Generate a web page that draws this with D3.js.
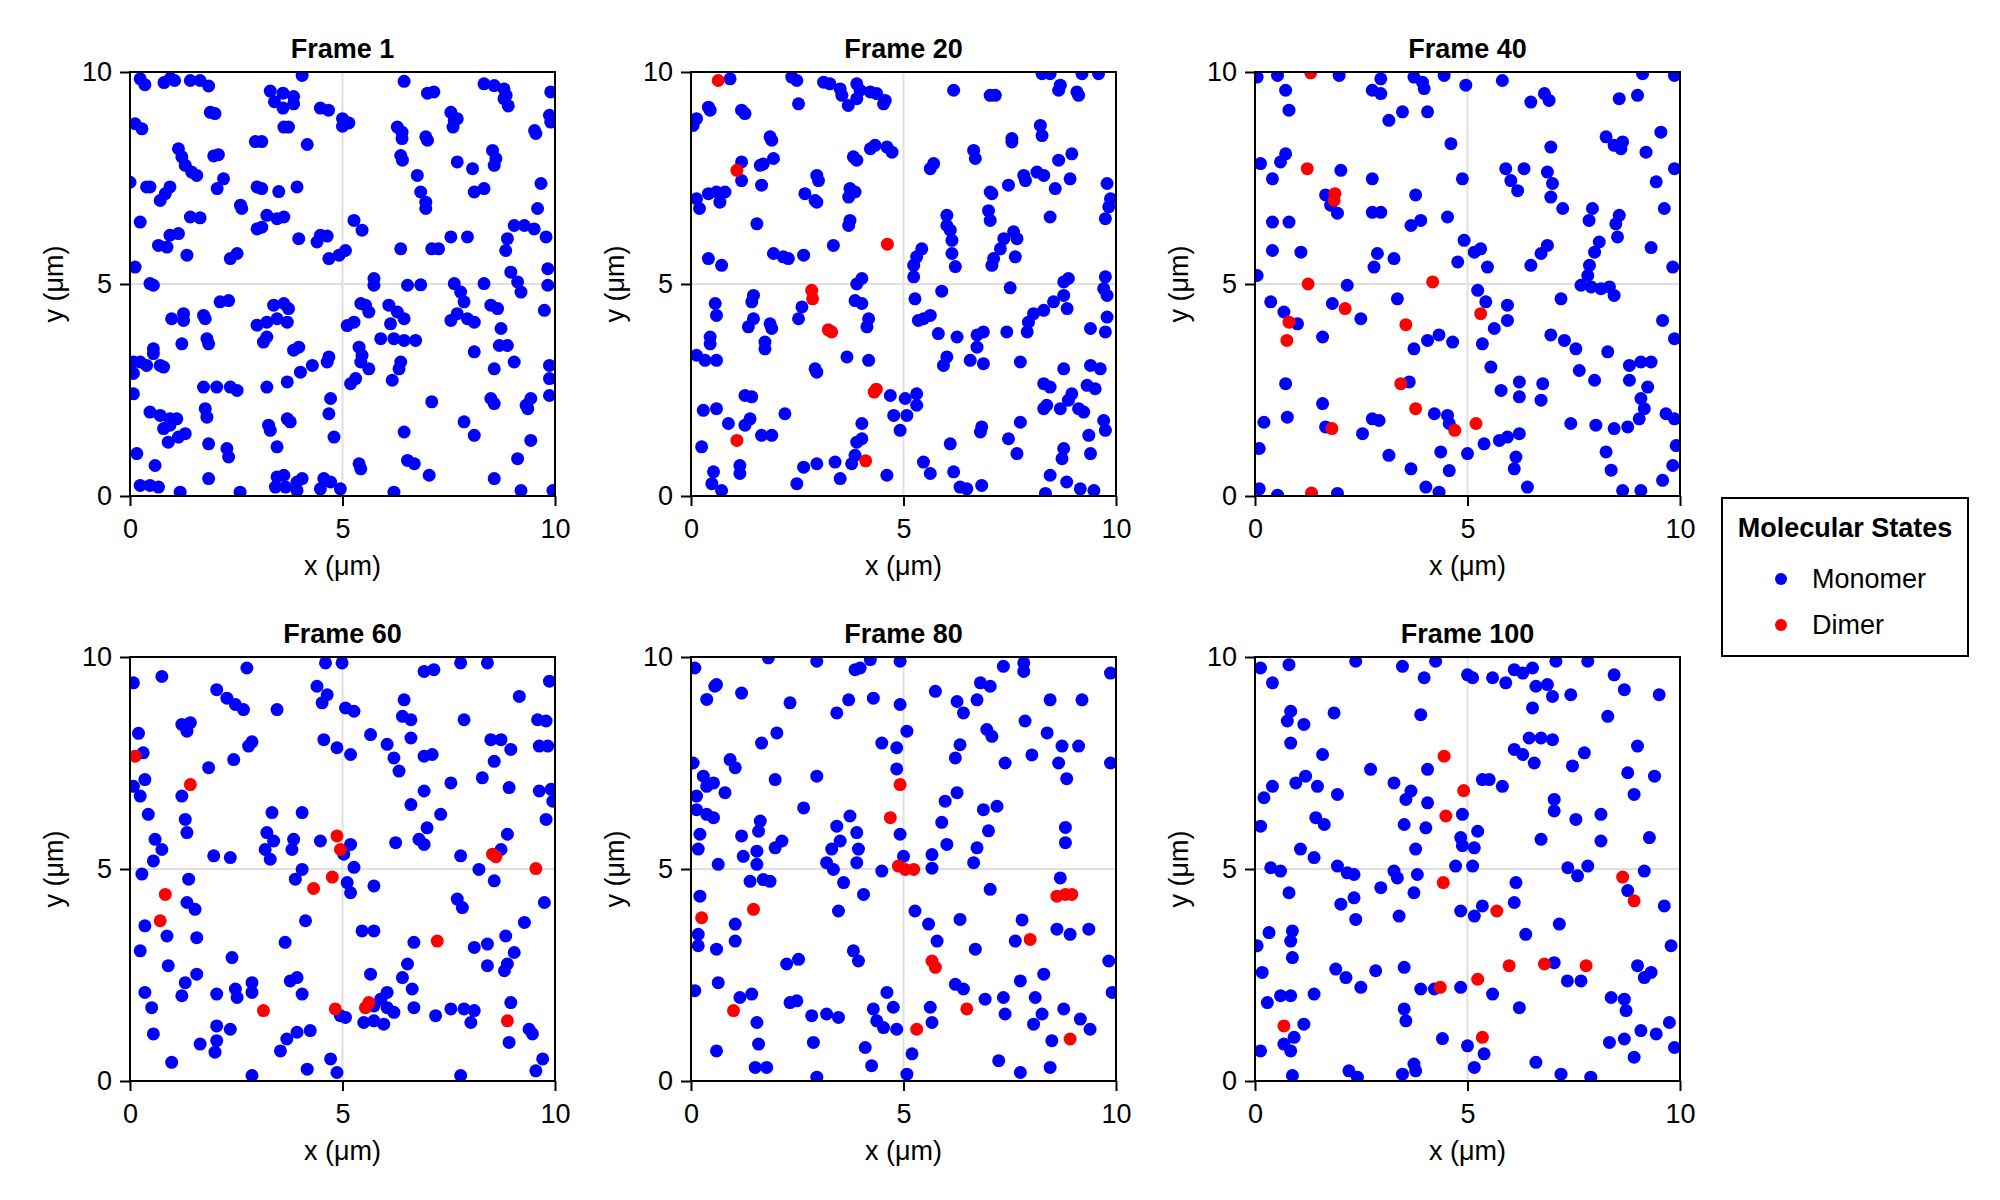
<!DOCTYPE html>
<html>
<head>
<meta charset="utf-8">
<script src="https://cdn.jsdelivr.net/npm/d3@7"></script>
<style>
  body { margin: 0; background: #fff; }
  svg { font-family: "Liberation Sans", Arial, sans-serif; }
</style>
</head>
<body>
<div id="container"></div>
<script>
'use strict'

// frame titles and tick labels
const frameTitles = ["Frame 1", "Frame 20", "Frame 40", "Frame 60", "Frame 80", "Frame 100"];
const tickValues = [0, 5, 10];
const stateNames = ["Monomer", "Dimer"];

// positions (µm)
const mono1 = [[0.24,9.84],[0.35,9.7],[0.8,9.75],[0.95,9.85],[1.05,9.8],[1.42,9.8],[1.65,9.8],[1.85,9.67],[4.05,9.92],
 [3.3,9.55],[3.6,9.5],[3.85,9.42],[3.4,9.3],[3.6,9.15],[3.85,9.25],[4.48,9.15],[4.67,9.1],[5.0,8.9],[5.15,8.8],[5.0,8.72],
 [6.45,9.78],[7.0,9.5],[7.15,9.53],[8.33,9.72],[8.57,9.68],[8.8,9.6],[8.8,9.37],[8.9,9.2],[8.85,9.45],[9.9,9.53],[9.87,8.98],[9.9,8.82],[9.52,8.62],[9.55,8.55],
 [7.55,9.05],[7.63,8.86],[7.6,8.7],[7.7,8.9],[6.29,8.7],[6.4,8.58],[6.4,8.43],[6.96,8.47],[7.0,8.39],[1.89,9.05],[2.0,9.02],[0.12,8.78],[0.28,8.66],[3.62,8.7],[3.73,8.7],[2.95,8.36],[3.1,8.36],[4.17,8.29],
 [1.14,8.19],[1.22,8.0],[1.3,7.8],[1.45,7.64],[1.57,7.56],[1.97,8.02],[2.08,8.05],[2.2,7.48],[2.05,7.25],[0.0,7.4],[0.39,7.29],[0.47,7.29],[0.94,7.29],[0.83,7.13],[0.71,6.97],[2.99,7.29],[3.1,7.25],[3.5,7.18],[3.93,7.29],
 [2.6,6.86],[2.63,6.78],[3.22,6.62],[3.46,6.54],[3.62,6.58],[1.42,6.58],[1.65,6.56],[0.24,6.46],[2.99,6.3],[3.1,6.34],[0.94,6.15],[1.14,6.19],[0.67,5.91],[0.87,5.87],[3.97,6.07],[4.48,6.15],[4.64,6.13],[4.4,5.99],
 [1.34,5.68],[2.36,5.6],[2.52,5.72],[4.68,5.6],[4.92,5.68],[5.07,5.79],[0.12,5.4],[0.47,5.01],[0.55,4.97],[5.27,6.5],[5.46,6.27],[6.37,5.83],[7.1,5.83],[7.26,5.83],[7.55,6.11],[7.94,6.11],[5.74,5.13],[5.74,4.97],
 [6.53,4.97],[6.84,4.98],[7.63,5.01],[7.78,4.81],[7.86,4.58],[8.33,5.01],[8.96,5.28],[9.12,5.05],[9.2,4.81],[9.83,5.36],[9.83,4.97],[9.75,4.38],[8.88,6.07],[8.84,5.79],[9.04,6.38],[9.28,6.38],[9.51,6.3],[9.59,6.78],
 [9.79,6.11],[9.67,7.37],[8.33,7.25],[8.1,7.17],[7.7,7.88],[8.06,7.72],[8.53,8.15],[8.61,7.96],[8.57,7.8],[6.76,7.56],[6.84,7.17],[6.96,6.93],[6.96,6.78],[6.37,8.03],[6.41,7.92],
 [8.49,4.5],[8.65,4.42],[8.73,3.95],[8.69,3.55],[8.88,3.55],[9.04,3.16],[8.57,3.0],[9.87,3.08],[9.87,2.77],[9.87,2.37],[8.1,3.4],[7.94,4.18],[8.1,4.1],[7.55,4.14],[7.7,4.3],[8.49,2.3],[8.57,2.18],[9.36,2.06],[9.32,2.14],[9.43,2.3],
 [7.1,2.22],[7.86,1.75],[8.1,1.43],[6.45,1.51],[6.53,0.84],[6.69,0.76],[7.04,0.49],[9.12,0.88],[9.43,1.31],[8.57,0.41],[9.2,0.13],[9.95,0.13],[6.21,0.09],[5.39,0.76],[5.43,0.64],
 [5.11,4.02],[5.27,4.1],[5.43,4.54],[5.62,4.34],[5.54,4.5],[6.09,4.5],[6.29,4.34],[6.45,4.18],[6.13,4.06],[5.9,3.71],[6.21,3.71],[6.45,3.67],[6.72,3.67],[5.39,3.51],[5.46,3.32],[5.43,3.16],[5.62,3.0],[6.37,3.16],[6.33,3.0],[6.17,2.73],
 [5.19,2.65],[5.31,2.77],[4.68,3.28],[4.64,3.16],[3.85,3.44],[3.97,3.51],[4.01,2.92],[4.29,3.08],[4.72,2.3],[4.68,1.94],[4.8,1.39],[3.7,2.69],[3.22,2.57],[1.73,2.57],[2.04,2.57],[2.36,2.57],[2.52,2.49],[3.38,4.5],[3.62,4.54],[3.73,4.42],
 [2.99,4.03],[3.22,4.1],[3.46,4.18],[3.7,4.1],[3.14,3.63],[3.22,3.75],[2.12,4.58],[2.32,4.61],[0.98,4.18],[1.26,4.14],[1.26,4.3],[1.73,4.26],[1.77,4.18],[1.81,3.71],[1.85,3.59],[1.22,3.59],[0.55,3.47],[0.55,3.36],
 [0.24,3.16],[0.39,3.08],[0.71,3.08],[0.79,3.04],[0.08,3.16],[0.08,2.89],[0.08,2.41],[0.47,1.98],[0.71,1.9],[0.94,1.82],[1.1,1.82],[0.79,1.59],[0.94,1.67],[0.9,1.27],[1.14,1.39],[1.3,1.47],[1.77,2.06],[1.81,1.86],[1.85,1.23],
 [2.28,1.12],[2.32,0.92],[0.16,1.0],[0.59,0.72],[1.85,0.41],[0.24,0.25],[0.47,0.25],[0.67,0.21],[1.18,0.09],[2.59,0.09],[3.26,1.67],[3.3,1.55],[3.7,1.82],[3.77,1.75],[3.46,1.16],[3.46,0.45],[3.62,0.49],[3.42,0.21],[3.66,0.21],
 [3.93,0.33],[4.05,0.41],[3.93,0.13],[4.56,0.41],[4.72,0.33],[4.48,0.17],[4.95,0.17]];
const dimer1 = [];

const mono20 = [[0.92,9.84],[2.37,9.88],[2.49,9.8],[3.12,9.76],[3.27,9.72],[3.51,9.6],[3.55,9.45],[3.9,9.72],[3.98,9.57],[4.22,9.53],[4.37,9.49],[4.57,9.33],[4.53,9.25],[3.9,9.37],[3.7,9.21],
 [2.53,9.25],[0.41,9.17],[0.45,9.1],[0.13,8.9],[0.05,8.74],[1.19,9.1],[1.27,9.02],[1.86,8.47],[1.9,8.39],[6.18,9.57],[7.04,9.45],[7.16,9.45],[8.26,9.96],[8.45,9.96],[8.69,9.69],[8.65,9.57],[9.08,9.53],[9.12,9.45],[9.59,9.96],[9.2,9.96],
 [8.22,8.74],[8.26,8.5],[7.55,8.43],[7.55,8.35],[6.65,8.15],[6.69,7.96],[5.63,7.72],[5.71,7.84],[4.22,8.19],[4.33,8.27],[4.61,8.23],[4.73,8.11],[3.82,8.0],[3.9,7.92],[1.94,7.96],[1.63,7.8],[1.7,7.83],[1.19,7.88],[1.19,7.44],[1.66,7.33],
 [2.96,7.56],[3.0,7.44],[3.74,7.25],[3.86,7.17],[3.71,7.05],[2.68,7.13],[2.92,6.97],[2.96,6.93],[0.13,7.01],[0.2,6.78],[0.41,7.13],[0.6,7.17],[0.68,6.93],[0.8,7.17],[1.55,6.42],[3.74,6.5],[3.71,6.38],[3.35,5.91],
 [1.94,5.72],[2.17,5.64],[2.29,5.6],[2.65,5.68],[0.41,5.6],[0.72,5.44],[3.9,5.0],[4.02,5.13],[8.14,7.64],[8.3,7.56],[7.83,7.56],[7.87,7.44],[8.65,7.92],[8.96,8.07],[8.92,7.48],[8.57,7.25],[9.79,7.37],[9.87,7.01],[9.83,6.82],[9.75,6.54],
 [7.04,7.17],[7.08,7.13],[7.47,7.33],[8.45,6.58],[7.0,6.73],[7.04,6.5],[6.02,6.62],[6.02,6.38],[6.1,6.27],[6.14,6.03],[7.36,6.07],[7.59,6.23],[7.67,6.07],[7.28,5.83],[7.12,5.6],[7.08,5.44],[7.63,5.64],[6.14,5.72],[6.22,5.41],
 [5.43,5.83],[5.31,5.64],[5.24,5.44],[5.24,5.17],[8.88,5.13],[8.77,5.05],[9.75,5.17],[9.71,4.89],[9.79,4.73],[7.51,4.91],[5.9,4.83],[5.27,4.65],[8.77,4.73],[8.53,4.58],[8.3,4.38],[8.06,4.3],[7.94,4.1],[7.91,3.87],[8.85,4.42],
 [9.79,4.22],[9.75,3.87],[9.4,3.95],[7.43,3.87],[5.47,4.18],[5.63,4.26],[5.35,4.14],[5.82,3.83],[6.26,3.75],[6.73,3.8],[6.88,3.87],[6.73,3.51],[6.02,3.28],[5.94,3.08],[6.57,3.2],[6.88,3.12],[7.75,3.16],[8.77,3.0],[9.4,3.08],[9.63,3.0],
 [8.3,2.65],[8.45,2.57],[9.32,2.61],[9.51,2.53],[8.96,2.41],[8.88,2.26],[8.3,2.06],[8.37,2.14],[8.69,2.06],[9.12,2.06],[9.24,1.98],[9.71,1.78],[9.75,1.55],[7.75,1.74],[9.36,1.43],[9.4,1.0],[7.47,1.35],[7.67,1.0],[8.77,1.12],[8.73,0.88],
 [6.84,1.63],[6.81,1.51],[6.1,1.23],[6.18,0.57],[5.47,0.8],[5.63,0.53],[6.33,0.21],[6.49,0.17],[6.84,0.25],[8.45,0.49],[8.84,0.33],[9.16,0.17],[9.48,0.13],[8.34,0.06],
 [4.69,2.37],[5.04,2.3],[5.31,2.41],[5.31,2.14],[4.77,1.9],[5.08,1.9],[4.92,1.55],[3.67,3.28],[4.18,3.2],[2.92,3.0],[2.96,2.92],[3.86,4.61],[4.02,4.54],[4.18,4.18],[4.14,3.99],[2.61,4.46],[2.53,4.18],[1.47,4.73],[1.43,4.58],
 [0.57,4.54],[0.6,4.26],[1.47,4.18],[1.35,3.99],[1.86,4.06],[1.9,3.95],[0.45,3.75],[0.45,3.59],[1.74,3.63],[1.74,3.47],[0.13,3.32],[0.33,3.2],[0.6,3.2],[1.27,2.37],[1.43,2.34],[0.29,2.02],[0.6,2.06],[0.88,1.71],[1.27,1.67],[1.39,1.82],
 [2.21,1.94],[1.66,1.43],[1.9,1.43],[0.25,1.16],[4.02,1.71],[3.9,1.27],[4.02,1.35],[3.78,0.76],[3.86,0.96],[0.53,0.57],[0.49,0.29],[0.72,0.13],[1.15,0.72],[1.15,0.53],[2.49,0.29],[2.65,0.68],[2.96,0.76],[3.39,0.8],[3.51,0.41],[4.61,0.49]];
const dimer20 = [[0.64,9.8],[1.08,7.68],[4.62,5.94],[2.84,4.85],[2.86,4.65],[3.23,3.92],[3.31,3.87],[4.36,2.52],[4.31,2.45],[1.08,1.31],[4.11,0.83]];

const mono40 = [[0.05,9.88],[0.53,9.92],[0.72,9.57],[0.8,9.1],[1.98,9.92],[2.76,9.57],[2.96,9.49],[2.96,9.84],[3.15,8.86],[3.47,9.06],[3.74,9.88],[3.94,9.76],[3.98,9.61],[4.06,9.06],[4.45,9.92],[4.96,9.69],[5.82,9.8],
 [6.49,9.29],[6.81,9.49],[6.92,9.33],[8.57,9.37],[9.0,9.45],[9.12,9.96],[9.87,9.92],[8.26,8.47],[8.45,8.27],[8.65,8.35],[8.61,8.19],[9.55,8.58],[9.2,8.11],[9.87,7.72],[9.44,7.41],[6.96,8.23],[4.61,8.31],[0.72,8.07],[0.6,7.88],
 [0.13,7.84],[0.41,7.48],[2.02,7.68],[2.76,7.48],[1.66,7.1],[1.78,6.86],[1.94,6.67],[4.88,7.48],[5.9,7.72],[6.02,7.44],[6.33,7.72],[6.18,7.2],[6.88,7.64],[7.0,7.37],[6.96,7.05],[7.24,6.78],[7.94,6.78],[7.86,6.5],
 [8.57,6.62],[8.49,6.42],[8.53,6.11],[9.63,6.78],[9.32,5.86],[9.83,5.4],[8.1,5.99],[7.99,5.75],[7.87,5.44],[7.83,5.2],[7.67,4.97],[7.91,4.93],[8.14,4.89],[8.34,4.93],[8.45,4.73],[6.88,5.91],[6.73,5.72],[6.49,5.44],[7.2,4.65],
 [9.59,4.14],[9.87,3.71],[6.96,3.8],[7.28,3.67],[7.55,3.47],[8.3,3.4],[7.63,2.96],[7.99,2.73],[8.81,3.08],[9.08,3.16],[9.32,3.16],[8.81,2.73],[9.24,2.57],[9.08,2.3],[9.16,2.06],[9.04,1.82],[9.67,1.94],[8.45,1.59],[8.77,1.63],
 [9.87,1.82],[7.43,1.71],[8.02,1.67],[8.26,1.04],[8.38,0.61],[9.91,1.19],[9.83,0.72],[9.59,0.37],[8.65,0.13],[9.08,0.13],[6.41,0.21],[6.22,1.47],[5.94,1.39],[5.75,1.31],[5.39,1.23],[6.14,0.92],[6.1,0.64],[5.79,2.49],
 [6.22,2.69],[6.22,2.34],[6.77,2.65],[6.73,2.26],[5.55,3.04],[5.35,3.59],[5.63,3.95],[5.94,4.5],[5.94,4.14],[5.24,4.85],[5.43,4.58],[4.92,6.03],[5.16,5.75],[5.31,5.83],[5.47,5.4],[4.77,5.52],[2.17,4.97],[3.27,5.6],
 [2.88,5.72],[2.8,5.4],[1.08,5.75],[0.41,5.79],[0.05,5.2],[0.37,4.58],[0.68,4.34],[1.0,4.06],[1.82,4.54],[2.49,4.18],[3.35,4.65],[1.59,3.75],[3.74,3.47],[4.06,3.67],[4.33,3.8],[4.65,3.63],[0.72,2.65],[1.59,2.18],
 [2.76,1.82],[2.92,1.78],[2.53,1.47],[1.66,1.63],[0.76,1.86],[0.21,1.74],[0.1,1.12],[4.22,1.94],[4.53,1.9],[4.57,1.71],[3.63,2.69],[3.15,0.96],[3.67,0.64],[4.37,1.04],[4.57,0.6],[5.0,1.0],[4.02,0.21],[4.33,0.09],
 [1.94,0.06],[0.53,0.02],[0.1,0.17],[3.67,6.38],[3.9,6.5],[4.53,6.58],[2.76,6.69],[2.96,6.69],[0.41,6.46],[0.8,6.46],[3.78,7.1]];
const dimer40 = [[1.31,9.98],[1.23,7.72],[1.88,7.13],[1.86,6.97],[1.25,5.0],[4.18,5.05],[2.12,4.42],[5.31,4.3],[0.8,4.1],[0.75,3.67],[3.55,4.04],[3.43,2.65],[3.78,2.06],[5.2,1.71],[4.7,1.55],[1.81,1.59],[1.33,0.07]];

const mono60 = [[2.75,9.74],[4.6,9.86],[4.99,9.86],[0.75,9.54],[0.08,9.39],[2.04,9.23],[2.28,9.03],[2.48,8.88],[2.67,8.76],[3.46,8.76],[4.4,9.31],[4.64,9.11],[4.52,8.92],[5.07,8.8],[5.27,8.72],[6.45,8.99],[6.92,9.66],[7.15,9.7],
 [7.78,9.86],[8.41,9.86],[9.16,9.07],[9.87,9.43],[6.41,8.6],[6.61,8.52],[7.86,8.52],[9.59,8.52],[9.79,8.49],[1.22,8.41],[1.42,8.45],[1.34,8.25],[0.2,8.2],[2.87,8.0],[2.79,7.9],[4.56,8.05],[4.87,7.86],[5.19,7.7],[5.66,8.17],
 [6.05,7.94],[6.21,7.62],[6.61,8.09],[6.33,7.31],[6.92,7.66],[7.11,7.7],[8.49,8.05],[8.73,8.05],[8.96,7.82],[8.57,7.54],[9.63,7.9],[9.83,7.9],[7.55,7.03],[8.29,7.15],[8.92,6.92],[9.63,6.84],[9.91,6.88],[9.95,6.6],
 [0.31,7.74],[0.08,6.95],[0.35,7.11],[0.24,6.72],[1.85,7.39],[2.44,7.58],[1.22,6.72],[0.43,6.29],[1.3,6.17],[1.34,5.86],[0.59,5.7],[0.75,5.46],[0.55,5.19],[1.97,5.31],[2.36,5.27],[3.34,6.33],[4.05,6.33],
 [3.22,5.86],[3.38,5.66],[3.18,5.46],[3.3,5.23],[3.85,5.7],[3.81,5.46],[4.48,5.66],[5.19,5.58],[5.03,5.35],[5.27,5.04],[4.05,4.99],[3.89,4.76],[5.11,4.68],[5.19,4.44],[5.74,4.6],[6.25,5.62],[6.8,5.7],[6.92,5.58],
 [6.99,5.97],[7.31,6.29],[6.61,6.52],[6.92,6.84],[7.78,5.31],[8.21,4.99],[8.88,5.82],[8.73,5.46],[8.57,4.72],[9.79,6.17],[9.75,4.21],[7.7,4.29],[7.82,4.09],[9.28,3.74],[8.84,3.42],[8.1,3.15],[8.41,3.23],[9.04,3.03],
 [8.88,2.76],[8.41,2.72],[8.81,2.6],[6.68,3.27],[5.46,3.54],[5.74,3.54],[6.53,2.76],[6.41,2.44],[5.66,2.52],[6.05,2.09],[5.9,1.93],[6.64,2.17],[6.68,1.73],[5.74,1.77],[6.05,1.73],[6.21,1.62],[5.5,1.38],[5.74,1.42],[5.97,1.34],
 [7.19,1.54],[7.55,1.7],[7.86,1.7],[8.1,1.66],[8.02,1.38],[8.96,1.85],[9.39,1.22],[9.47,1.11],[8.92,0.91],[9.71,0.52],[9.55,0.24],[7.78,0.13],[4.95,1.54],[5.07,1.5],[4.13,3.78],[3.65,3.27],[2.4,2.91],[1.57,3.38],
 [0.9,2.72],[0.87,3.42],[0.35,3.66],[0.24,3.07],[1.34,4.21],[1.53,4.05],[1.38,4.76],[0.28,4.88],[1.57,2.52],[1.3,2.32],[1.22,2.01],[0.35,2.09],[0.51,1.73],[2.04,2.05],[2.48,2.17],[2.52,1.97],[2.87,2.32],[2.87,2.09],
 [3.77,2.36],[3.93,2.44],[4.05,2.05],[0.55,1.11],[0.98,0.44],[1.65,0.87],[2.04,0.95],[2.0,0.68],[2.04,1.3],[2.36,1.22],[3.54,0.71],[3.69,0.99],[3.93,1.15],[4.24,1.19],[2.87,0.13],[4.17,0.28],[4.72,0.52],[4.87,0.2]];
const dimer60 = [[0.12,7.66],[1.42,6.99],[4.87,5.78],[4.95,5.46],[4.76,4.81],[4.32,4.54],[0.83,4.4],[0.71,3.78],[7.23,3.3],[8.53,5.35],[8.61,5.29],[9.55,5.01],[5.62,1.85],[5.54,1.73],[4.83,1.7],[3.14,1.66],[8.88,1.42]];

const mono80 = [[0.09,9.74],[1.82,9.98],[2.96,9.9],[3.86,9.7],[3.98,9.74],[4.22,9.94],[4.92,9.9],[7.35,9.78],[7.83,9.86],[7.83,9.66],[9.87,9.62],[0.6,9.35],[0.56,9.31],[0.37,9.0],[1.19,9.15],[2.33,8.92],[3.43,8.68],
 [3.71,8.99],[4.29,9.03],[4.92,8.88],[5.75,9.19],[6.26,8.95],[6.41,8.68],[6.73,8.99],[6.81,9.39],[7.04,9.31],[8.45,8.99],[9.2,8.99],[7.86,8.49],[6.96,8.29],[7.08,8.13],[8.38,8.21],[5.08,8.25],[2.02,8.21],[1.66,7.97],
 [4.49,7.97],[4.84,7.86],[6.33,7.93],[6.22,7.62],[8.02,7.69],[8.73,7.9],[9.12,7.9],[8.65,7.5],[8.84,7.13],[9.87,7.5],[7.39,7.5],[0.92,7.58],[1.04,7.39],[0.05,7.5],[0.29,7.19],[0.53,7.03],[0.8,6.8],[0.37,6.95],
 [0.13,6.72],[0.13,6.4],[0.37,6.29],[0.53,6.21],[1.98,7.11],[2.96,7.19],[4.84,7.36],[2.65,6.44],[1.63,6.13],[1.59,5.89],[1.19,5.78],[0.21,5.82],[0.17,5.47],[1.98,5.5],[2.14,5.66],[1.23,5.3],[1.55,5.42],[1.55,5.11],[0.64,5.11],
 [3.43,6.01],[3.74,6.25],[3.51,5.66],[3.31,5.47],[3.19,5.15],[3.35,4.99],[3.9,5.86],[3.94,5.47],[3.9,5.15],[4.92,5.82],[5.0,5.3],[4.49,4.95],[5.67,5.34],[5.67,5.02],[6.02,5.58],[5.9,6.1],[6.26,6.8],[5.98,6.6],
 [6.88,6.4],[7.2,6.48],[7.0,5.9],[6.73,5.5],[6.65,5.15],[8.81,5.98],[8.81,5.62],[8.69,4.79],[9.83,2.83],[9.91,2.09],[7.04,4.52],[6.33,3.81],[6.69,3.11],[7.79,3.8],[7.63,3.3],[8.61,3.58],[8.92,3.46],[9.36,3.58],
 [8.3,2.52],[7.75,2.36],[8.1,1.97],[7.35,1.97],[7.39,1.58],[6.92,1.93],[6.22,2.28],[6.41,2.17],[5.63,1.74],[5.67,1.38],[8.26,1.58],[8.06,1.34],[8.77,1.7],[9.16,1.46],[9.39,1.22],[8.49,0.95],[7.24,0.48],[7.75,0.2],[8.45,0.32],
 [5.27,4.01],[5.59,3.7],[5.79,3.3],[5.2,0.64],[5.08,0.16],[4.61,2.09],[4.76,1.74],[4.29,1.7],[4.37,1.42],[4.53,1.26],[4.84,1.22],[4.1,0.79],[4.25,0.36],[2.96,0.09],[2.88,0.91],[2.84,1.54],[3.19,1.58],[3.47,1.5],
 [2.49,1.89],[2.33,1.85],[2.53,2.87],[2.25,2.76],[3.82,3.07],[3.94,2.83],[3.47,4.01],[3.59,4.68],[4.06,4.4],[1.39,4.71],[1.7,4.75],[1.86,4.71],[1.04,3.7],[1.04,3.3],[0.6,3.11],[0.17,3.46],[0.17,3.19],[0.21,4.36],
 [0.64,2.32],[0.09,2.13],[1.15,1.97],[1.43,2.05],[1.55,1.38],[1.59,0.87],[0.6,0.71],[1.51,0.32],[1.78,0.32]];
const dimer80 = [[4.92,6.99],[4.69,6.21],[5.04,4.99],[5.24,4.99],[4.88,5.07],[0.25,3.85],[1.47,4.05],[8.81,4.4],[8.96,4.4],[8.61,4.36],[7.98,3.34],[5.67,2.83],[5.75,2.68],[6.49,1.7],[5.31,1.22],[1.0,1.66],[8.92,0.99]];

const mono100 = [[0.13,9.74],[0.8,9.82],[0.41,9.39],[2.37,9.9],[3.47,9.78],[4.25,9.9],[3.98,9.51],[5.0,9.58],[5.12,9.51],[5.59,9.51],[5.9,9.39],[6.1,9.7],[6.3,9.62],[6.53,9.74],[7.08,9.9],[7.83,9.9],[8.45,9.58],
 [6.61,9.31],[6.88,9.35],[7.0,9.07],[6.53,8.8],[7.43,9.11],[8.69,9.23],[9.51,9.11],[8.3,8.6],[0.84,8.72],[0.76,8.49],[1.15,8.41],[1.86,8.68],[0.84,7.97],[3.9,8.64],[1.59,7.7],[2.72,7.35],[4.06,7.35],
 [6.45,8.09],[6.73,8.09],[7.0,8.05],[6.1,7.82],[6.3,7.7],[6.57,7.5],[7.75,7.74],[7.47,7.43],[9.0,7.9],[8.77,7.27],[9.4,7.19],[8.92,6.76],[7.04,6.64],[7.04,6.37],[7.55,6.17],[8.14,6.29],[8.14,5.66],[9.28,5.74],[6.73,5.7],
 [5.35,7.11],[5.51,7.11],[5.82,6.95],[3.27,7.03],[3.67,6.84],[3.55,6.64],[4.06,6.56],[4.88,6.29],[3.51,6.05],[4.02,5.97],[4.84,5.74],[4.88,5.55],[5.16,5.5],[5.24,5.89],[3.78,5.47],[4.72,5.07],[5.12,5.07],
 [0.21,6.68],[0.41,6.95],[0.96,7.03],[1.19,7.19],[1.47,6.95],[1.94,6.76],[0.13,6.01],[1.43,6.21],[1.63,6.05],[1.07,5.47],[1.39,5.27],[0.37,5.03],[0.6,4.95],[1.94,5.07],[2.17,4.91],[2.33,4.87],[3.27,4.95],[3.35,4.79],
 [3.82,4.87],[2.96,4.56],[3.74,4.44],[0.8,4.44],[2.33,4.32],[2.02,4.17],[2.37,3.81],[3.39,3.89],[4.84,4.01],[5.16,3.89],[5.35,4.13],[6.14,4.68],[6.1,4.21],[7.16,3.7],[6.37,3.46],[9.63,4.13],[9.16,4.95],[8.77,4.49],
 [7.36,5.03],[7.59,4.84],[7.83,5.07],[9.79,3.19],[0.33,3.5],[0.88,3.54],[0.84,3.3],[0.05,3.19],[0.88,2.91],[0.17,2.56],[1.9,2.64],[2.14,2.44],[2.49,2.21],[2.84,2.6],[3.51,2.68],[3.9,2.17],[4.22,2.17],[4.84,2.21],[5.59,2.05],
 [7.35,2.36],[7.67,2.36],[7.04,2.79],[9.0,2.72],[9.32,2.56],[9.16,2.44],[8.38,1.97],[8.69,1.93],[8.73,1.66],[6.22,1.73],[0.29,1.85],[0.6,2.01],[0.84,2.01],[1.39,2.05],[1.15,1.34],[0.68,0.87],[0.92,1.03],[0.84,0.71],
 [0.13,0.71],[3.51,1.7],[3.55,1.42],[4.41,1.0],[5.0,0.83],[5.39,0.64],[5.16,0.32],[3.74,0.4],[3.78,0.24],[3.47,0.16],[2.21,0.24],[2.41,0.09],[0.88,0.13],[6.61,0.44],[7.2,0.16],[7.9,0.09],[8.92,0.56],[8.34,0.91],[8.69,0.99],
 [9.08,1.19],[9.44,1.11],[9.75,1.38],[9.87,0.79]];
const dimer100 = [[4.45,7.66],[4.91,6.85],[4.49,6.25],[4.43,4.68],[5.69,4.01],[8.65,4.81],[8.92,4.25],[5.98,2.72],[6.81,2.76],[7.79,2.72],[5.24,2.4],[4.36,2.21],[0.68,1.3],[5.35,1.03]];

const monomerSets = [mono1, mono20, mono40, mono60, mono80, mono100];
const dimerSets = [dimer1, dimer20, dimer40, dimer60, dimer80, dimer100];

const w = 2000, h = 1200;
const colLeft = [130, 691, 1255];
const rowTop = [72, 657];
const pw = 425, ph = 424;
const blue = "#0000ff", red = "#ff0000";
const r = 6.5;

const svg = d3.select("#container").append("svg")
  .attr("width", w).attr("height", h);

frameTitles.forEach(function(title, i) {
  const left = colLeft[i % 3];
  const top = rowTop[Math.floor(i / 3)];
  const x = d3.scaleLinear().domain([0, 10]).range([left, left + pw]);
  const y = d3.scaleLinear().domain([0, 10]).range([top + ph, top]);
  const g = svg.append("g");

  //grid
  g.selectAll(".gx").data([5]).enter().append("line")
    .attr("x1", d => x(d)).attr("x2", d => x(d)).attr("y1", top).attr("y2", top + ph)
    .attr("stroke", "#e0e0e0").attr("stroke-width", 2);
  g.selectAll(".gy").data([5]).enter().append("line")
    .attr("y1", d => y(d)).attr("y2", d => y(d)).attr("x1", left).attr("x2", left + pw)
    .attr("stroke", "#e0e0e0").attr("stroke-width", 2);

  //clip
  svg.append("clipPath").attr("id", "clip" + i).append("rect")
    .attr("x", left).attr("y", top).attr("width", pw).attr("height", ph);

  const pts = g.append("g").attr("clip-path", "url(#clip" + i + ")");
  pts.selectAll(".mono").data(monomerSets[i]).enter().append("circle")
    .attr("cx", d => x(d[0])).attr("cy", d => y(d[1])).attr("r", r).attr("fill", blue);
  pts.selectAll(".dim").data(dimerSets[i]).enter().append("circle")
    .attr("cx", d => x(d[0])).attr("cy", d => y(d[1])).attr("r", r).attr("fill", red);

  //axes
  const xAxis = d3.axisBottom(x).tickValues(tickValues).tickFormat(d3.format("d")).tickSize(10).tickSizeOuter(0).tickPadding(13);
  const yAxis = d3.axisLeft(y).tickValues(tickValues).tickFormat(d3.format("d")).tickSize(10).tickSizeOuter(0).tickPadding(8);
  const ax = g.append("g").attr("transform", "translate(0," + (top + ph) + ")").call(xAxis);
  const ay = g.append("g").attr("transform", "translate(" + left + ",0)").call(yAxis);
  [ax, ay].forEach(a => {
    a.select(".domain").remove();
    a.selectAll("line").attr("stroke", "#000").attr("stroke-width", 2);
    a.selectAll("text").attr("fill", "#000").style("font-size", "27px").style("font-family", "'Liberation Sans', Arial, sans-serif");
  });

  g.append("rect").attr("x", left).attr("y", top).attr("width", pw).attr("height", ph)
    .attr("fill", "none").attr("stroke", "#000").attr("stroke-width", 2);

  //labels
  g.append("text").text(title)
    .attr("x", left + pw / 2).attr("y", top - 14)
    .attr("text-anchor", "middle").style("font-size", "27px").style("font-weight", "bold");
  g.append("text").text("x (μm)")
    .attr("x", left + pw / 2).attr("y", top + ph + 79)
    .attr("text-anchor", "middle").style("font-size", "27px");
  g.append("text").text("y (μm)")
    .attr("transform", "translate(" + (left - 67) + "," + (top + ph / 2) + ") rotate(-90)")
    .attr("text-anchor", "middle").style("font-size", "27px");
});

//Legend
const lg = svg.append("g");
lg.append("rect").attr("x", 1722).attr("y", 498).attr("width", 246).attr("height", 158)
  .attr("fill", "#fff").attr("stroke", "#000").attr("stroke-width", 2);
lg.append("text").text("Molecular States").attr("x", 1845).attr("y", 537)
  .attr("text-anchor", "middle").style("font-size", "27px").style("font-weight", "bold");
[blue, red].forEach(function(c, k) {
  lg.append("circle").attr("cx", 1781).attr("cy", 579 + k * 46).attr("r", 6).attr("fill", c);
  lg.append("text").text(stateNames[k]).attr("x", 1812).attr("y", 588 + k * 46).style("font-size", "27px");
});
</script>
</body>
</html>
